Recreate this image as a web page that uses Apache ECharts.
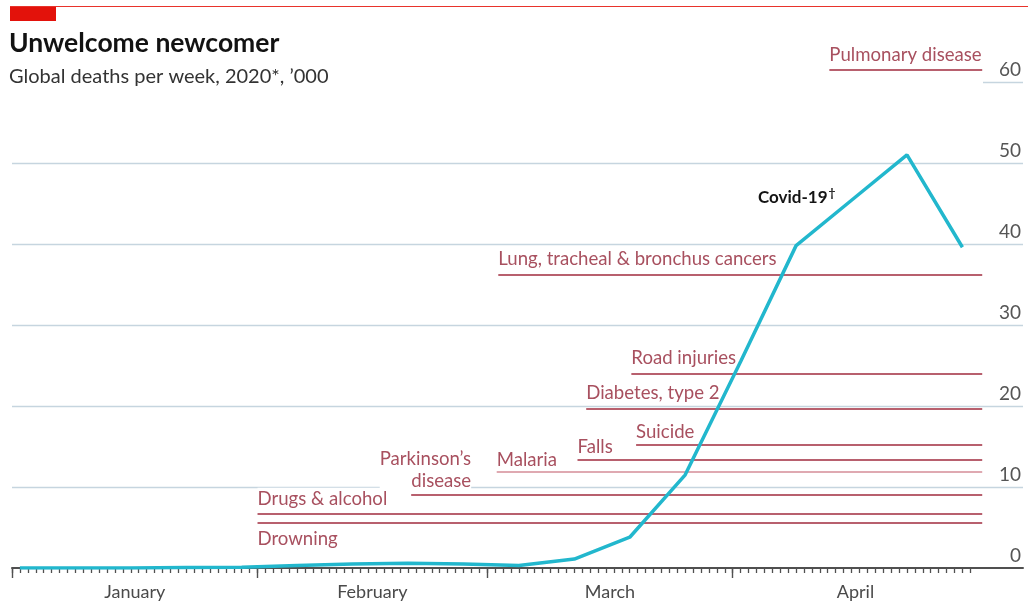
<!DOCTYPE html>
<html>
<head>
<meta charset="utf-8">
<title>Unwelcome newcomer</title>
<script src="https://cdn.jsdelivr.net/npm/echarts@6/dist/echarts.min.js"></script>
<style>
  html, body { margin: 0; padding: 0; background: #fff; }
  #chart { width: 1028px; height: 607px; }
</style>
</head>
<body>
<div id="chart"></div>
<script>
// Weekly Covid-19 deaths worldwide, thousands (one reading each Thursday)
const covidDates = [
  '2020-01-02', '2020-01-09', '2020-01-16', '2020-01-23', '2020-01-30',
  '2020-02-06', '2020-02-13', '2020-02-20', '2020-02-27', '2020-03-05',
  '2020-03-12', '2020-03-19', '2020-03-26', '2020-04-02', '2020-04-09',
  '2020-04-16', '2020-04-23', '2020-04-30'
];
const covidDeaths = [
  0, 0, 0, 0.05, 0.1,
  0.3, 0.5, 0.6, 0.5, 0.3,
  1.1, 3.8, 11.5, 25.5, 39.8,
  45.4, 51.0, 39.6
];

// Average weekly deaths from other causes, thousands
const causes = [
  'Pulmonary disease',
  'Lung, tracheal & bronchus cancers',
  'Road injuries',
  'Diabetes, type 2',
  'Suicide',
  'Falls',
  'Malaria',
  'Parkinson’s\ndisease',
  'Drugs & alcohol',
  'Drowning'
];
const causeDeaths = [61.5, 36.2, 24.0, 19.7, 15.2, 13.4, 11.9, 9.1, 6.7, 5.6];

// Axis ticks
const yTicks = [0, 10, 20, 30, 40, 50, 60];
const monthNames = ['January', 'February', 'March', 'April'];

// ---- layout ----
const DAY = 86400000;
const yearStart = Date.UTC(2020, 0, 1);
const dayOf = s => Math.round((Date.parse(s + 'T00:00:00Z') - yearStart) / DAY);
const axisEndDay = 121;           // 1 May
const plotEndDay = 127.65;        // the plot runs a little past the dated axis
const refLineEnd = 122.5;         // right end of the reference lines
const topLineStart = 122.6;       // short top gridline under its label

// where each reference line starts on the day axis, and how its label sits
const causeLayout = [
  { start: 103.2, dy: 3 },
  { start: 61.4, dy: 4 },
  { start: 78.2, dy: 4 },
  { start: 72.5, dy: 4 },
  { start: 78.8, dy: 1 },
  { start: 71.4, dy: 1 },
  { start: 61.2, dy: 0, faint: true },
  { start: 50.4, dy: 2, align: 'right', shift: 60, mask: true },
  { start: 31.0, dy: 4, mask: true },
  { start: 31.0, dy: 5, below: true }
];

const FONT = 'Lato, "Open Sans", sans-serif';
const rose = '#b8606e';
const roseText = '#a8505f';
const faintRose = '#dfa9b1';
const gridColor = '#c6d5df';
const cyan = '#22b7cd';
const axisGrey = '#505050';

// day-by-day categories for the dated axis (1 Jan – 30 Apr)
const axisDays = [];
for (let d = 0; d < axisEndDay; d++) {
  const dt = new Date(yearStart + d * DAY);
  axisDays.push(dt.toISOString().slice(0, 10));
}
const boundaryDays = axisDays.concat(['2020-05-01']);
const monthStartIdx = [];
axisDays.forEach((s, i) => { if (s.slice(8) === '01') monthStartIdx.push(i); });
const monthMidIdx = monthStartIdx.map((st, k) => {
  const end = k + 1 < monthStartIdx.length ? monthStartIdx[k + 1] : axisDays.length;
  return st + Math.floor((end - st) / 2);
});

const covidData = covidDates.map((d, i) => {
  const item = { value: [dayOf(d), covidDeaths[i]] };
  if (i === 15) {
    item.label = {
      show: true,
      position: 'left',
      distance: 16,
      offset: [0, -3],
      formatter: '{a|Covid-19}{b|†}',
      rich: {
        a: { fontFamily: FONT, fontSize: 17, fontWeight: 'bold', color: '#141414', lineHeight: 20 },
        b: { fontFamily: FONT, fontSize: 12, fontWeight: 'bold', color: '#141414', verticalAlign: 'top', lineHeight: 20, padding: [0, 0, 8, 1] }
      }
    };
  }
  return item;
});

const gridLines = yTicks.filter(v => v > 0).map(v => [
  { coord: [v === 60 ? topLineStart : 0, v] },
  { coord: [plotEndDay, v] }
]);

const refLines = causes.map((name, i) => {
  const lay = causeLayout[i];
  return [
    {
      coord: [lay.start, causeDeaths[i]],
      lineStyle: { color: lay.faint ? faintRose : rose, width: 2, type: 'solid' },
      label: {
        show: true,
        formatter: name,
        position: lay.below ? 'insideStartBottom' : 'insideStartTop',
        distance: [lay.shift || 0, lay.dy],
        align: lay.align || 'left',
        color: roseText,
        fontFamily: FONT,
        fontSize: 18.6,
        lineHeight: lay.mask ? 22 : 23,
        backgroundColor: lay.mask ? '#fff' : 'transparent'
      }
    },
    { coord: [refLineEnd, causeDeaths[i]] }
  ];
});

const chart = echarts.init(document.getElementById('chart'), null, { renderer: 'canvas' });

chart.setOption({
  animation: false,
  backgroundColor: '#fff',
  title: {
    text: 'Unwelcome newcomer',
    subtext: 'Global deaths per week, 2020*, ’000',
    left: 4,
    top: 25,
    itemGap: 10,
    textStyle: { fontFamily: FONT, fontSize: 26.5, fontWeight: 'bold', color: '#121212' },
    subtextStyle: { fontFamily: FONT, fontSize: 20, color: '#333' }
  },
  graphic: [
    { type: 'line', shape: { x1: 10, y1: 6.5, x2: 1028, y2: 6.5 }, style: { stroke: '#e8332b', lineWidth: 1 } },
    { type: 'rect', shape: { x: 10, y: 7, width: 46, height: 14 }, style: { fill: '#e3120b' } }
  ],
  grid: [
    { left: 12, right: 5, top: 65.8, bottom: 39 },      // plot area
    { left: 12, width: 958.3, top: 65.8, bottom: 39 },  // dated axis: month ticks and names
    { left: 12, width: 958.3, top: 568, height: 5 }     // dated axis: a short mark for every day
  ],
  xAxis: [
    {
      // baseline of the plot
      gridIndex: 0, type: 'value', min: 0, max: plotEndDay,
      axisLine: { show: true, lineStyle: { color: axisGrey, width: 2 } },
      axisTick: { show: false }, axisLabel: { show: false }, splitLine: { show: false }
    },
    {
      // month names, centred on each month
      gridIndex: 1, type: 'category', position: 'bottom', data: axisDays, boundaryGap: true,
      axisLine: { show: false },
      axisTick: { show: false },
      axisLabel: {
        show: true,
        interval: idx => monthMidIdx.includes(idx),
        formatter: (v, idx) => monthNames[monthMidIdx.indexOf(idx)] || '',
        margin: 15,
        fontFamily: FONT, fontSize: 18, color: '#4a4a4a'
      },
      splitLine: { show: false }
    },
    {
      // longer ticks at the first of each month
      gridIndex: 1, type: 'category', position: 'bottom', data: boundaryDays, boundaryGap: false,
      axisLine: { show: false },
      axisTick: { show: true, interval: idx => monthStartIdx.includes(idx), length: 10, lineStyle: { color: axisGrey, width: 1.4 } },
      axisLabel: { show: false },
      splitLine: { show: false }
    },
    {
      // daily marks: the split lines of a 5px-tall strip under the baseline
      gridIndex: 2, type: 'value', min: 0, max: axisEndDay, interval: 1,
      axisLine: { show: false },
      axisTick: { show: false },
      axisLabel: { show: false },
      splitLine: { show: true, lineStyle: { color: axisGrey, width: 1.3, type: 'solid' } }
    }
  ],
  yAxis: [
    {
      gridIndex: 0, type: 'value', position: 'right', min: 0, max: 62, interval: 10,
      axisLine: { show: false }, axisTick: { show: false }, splitLine: { show: false },
      axisLabel: {
        inside: true, margin: 2, verticalAlign: 'bottom', showMaxLabel: false,
        padding: [0, 0, 3, 0],
        fontFamily: FONT, fontSize: 19, color: '#555'
      }
    },
    { gridIndex: 1, type: 'value', show: false, min: 0, max: 62 },
    { gridIndex: 2, type: 'value', show: false, min: 0, max: 1, splitLine: { show: false } }
  ],
  series: [
    {
      name: 'gridlines', type: 'line', xAxisIndex: 0, yAxisIndex: 0, data: [], z: 1, silent: true,
      markLine: {
        silent: true, symbol: 'none', animation: false,
        lineStyle: { color: gridColor, width: 1.3, type: 'solid' },
        label: { show: false },
        emphasis: { disabled: true },
        data: gridLines
      }
    },
    {
      name: 'other causes', type: 'line', xAxisIndex: 0, yAxisIndex: 0, data: [], z: 2, silent: true,
      markLine: {
        silent: true, symbol: 'none', animation: false,
        emphasis: { disabled: true },
        data: refLines
      }
    },
    {
      name: 'Covid-19', type: 'line', xAxisIndex: 0, yAxisIndex: 0, z: 5,
      data: covidData,
      showSymbol: true, symbol: 'circle', symbolSize: 0,
      lineStyle: { color: cyan, width: 3.5 },
      itemStyle: { color: cyan },
      label: { show: false },
      emphasis: { disabled: true },
      silent: true
    }
  ]
});
</script>
</body>
</html>
